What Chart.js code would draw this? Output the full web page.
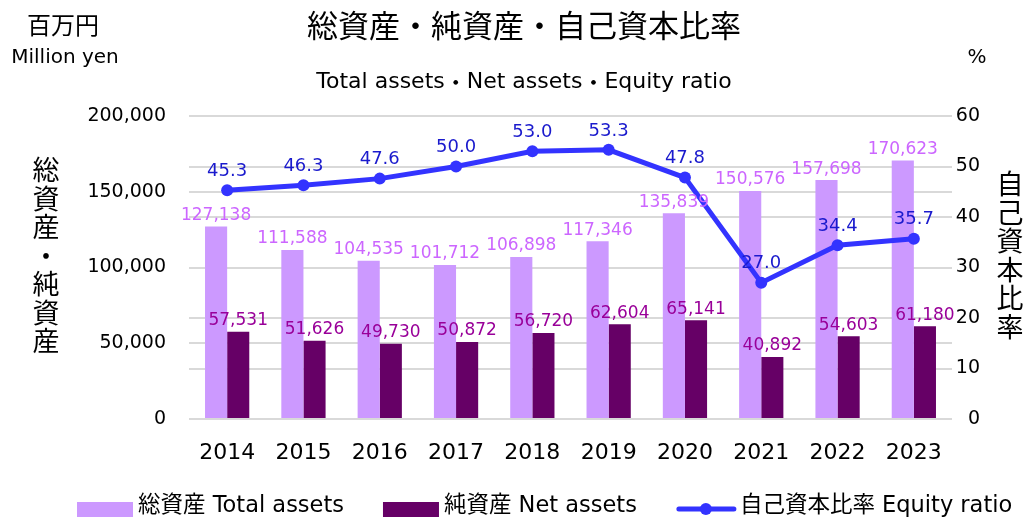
<!DOCTYPE html>
<html lang="ja">
<head>
<meta charset="utf-8">
<title>総資産・純資産・自己資本比率</title>
<script src="https://cdn.jsdelivr.net/npm/chart.js@4.4.1/dist/chart.umd.min.js"></script>
<style>
  html, body { margin: 0; padding: 0; background: #fff; }
  #chart { display: block; }
</style>
</head>
<body>
<canvas id="chart" width="1023" height="517"></canvas>
<script>
// データ
const years = ['2014', '2015', '2016', '2017', '2018', '2019', '2020', '2021', '2022', '2023'];
const totalAssets = [127138, 111588, 104535, 101712, 106898, 117346, 135839, 150576, 157698, 170623];
const netAssets = [57531, 51626, 49730, 50872, 56720, 62604, 65141, 40892, 54603, 61180];
const equityRatio = [45.3, 46.3, 47.6, 50.0, 53.0, 53.3, 47.8, 27.0, 34.4, 35.7];
const leftMax = 200000, leftStep = 50000;
const rightMax = 60, rightStep = 10;

const FONT = '"DejaVu Sans", "Noto Sans CJK JP", sans-serif';
const JP = '"Noto Sans CJK JP", "DejaVu Sans", sans-serif';

// 値ラベル
const valueLabels = {
  id: 'valueLabels',
  afterDatasetsDraw(chart) {
    const ctx = chart.ctx;
    ctx.save();
    ctx.textAlign = 'center';
    ctx.textBaseline = 'middle';
    chart.data.datasets.forEach((ds, i) => {
      const meta = chart.getDatasetMeta(i);
      meta.data.forEach((el, j) => {
        const v = ds.data[j];
        ctx.fillStyle = ds.labelColor;
        if (ds.type === 'line') {
          ctx.font = '18px ' + FONT;
          ctx.fillText(v.toFixed(1), el.x, el.y - 19);
        } else {
          ctx.font = '17px ' + FONT;
          ctx.fillText(v.toLocaleString('en-US'), el.x, el.y - 11);
        }
      });
    });
    ctx.restore();
  }
};

// 「・」だけ全角フォントで描く
function drawMixed(ctx, text, cx, y, size) {
  const parts = text.split('・');
  const latin = size + 'px ' + FONT;
  const dot = size + 'px ' + JP;
  let w = 0;
  parts.forEach((p, i) => {
    ctx.font = latin; w += ctx.measureText(p).width;
    if (i < parts.length - 1) { ctx.font = dot; w += ctx.measureText('・').width; }
  });
  let x = cx - w / 2;
  ctx.textAlign = 'left';
  parts.forEach((p, i) => {
    ctx.font = latin; ctx.fillText(p, x, y); x += ctx.measureText(p).width;
    if (i < parts.length - 1) {
      ctx.font = dot; ctx.fillText('・', x, y); x += ctx.measureText('・').width;
    }
  });
  ctx.textAlign = 'center';
}

// タイトル・軸タイトル・凡例
const decorations = {
  id: 'decorations',
  afterDraw(chart) {
    const ctx = chart.ctx;
    ctx.save();
    ctx.fillStyle = '#000';
    ctx.textBaseline = 'middle';
    ctx.textAlign = 'center';

    ctx.font = '31px ' + JP;
    ctx.fillText('総資産・純資産・自己資本比率', 524, 25);
    drawMixed(ctx, 'Total assets・Net assets・Equity ratio', 524, 82, 22);

    ctx.font = '24px ' + JP;
    ctx.fillText('百万円', 63, 25);
    ctx.font = '20px ' + FONT;
    ctx.fillText('Million yen', 65, 58);
    ctx.fillText('%', 977, 58);

    // 縦書きの軸タイトル
    ctx.font = '27px ' + JP;
    Array.from('総資産・純資産').forEach((c, i) => ctx.fillText(c, 46, 170 + i * 28.5));
    Array.from('自己資本比率').forEach((c, i) => ctx.fillText(c, 1010, 184 + i * 28.5));

    // 凡例
    const ly = 509;
    let x = 77;
    ctx.textAlign = 'left';
    ctx.font = '22.5px ' + FONT;
    chart.data.datasets.forEach(ds => {
      if (ds.type === 'line') {
        ctx.strokeStyle = ds.borderColor;
        ctx.lineWidth = 5;
        ctx.lineCap = 'round';
        ctx.beginPath();
        ctx.moveTo(x + 3, ly);
        ctx.lineTo(x + 58, ly);
        ctx.stroke();
        ctx.fillStyle = ds.borderColor;
        ctx.beginPath();
        ctx.arc(x + 30, ly, 6, 0, Math.PI * 2);
        ctx.fill();
        x += 64;
      } else {
        ctx.fillStyle = ds.backgroundColor;
        ctx.fillRect(x, 502, 56, 16);
        x += 61;
      }
      ctx.fillStyle = '#000';
      ctx.fillText(ds.label, x, ly - 3);
      x += ctx.measureText(ds.label).width + 39;
    });
    ctx.restore();
  }
};

const gridOpts = { color: '#d9d9d9', lineWidth: 2, drawTicks: false };

new Chart(document.getElementById('chart').getContext('2d'), {
  data: {
    labels: years,
    datasets: [
      {
        type: 'bar',
        label: '総資産 Total assets',
        data: totalAssets,
        yAxisID: 'y',
        backgroundColor: '#cc99ff',
        categoryPercentage: 0.58,
        barPercentage: 1,
        order: 1,
        labelColor: '#cc66ff'
      },
      {
        type: 'bar',
        label: '純資産 Net assets',
        data: netAssets,
        yAxisID: 'y',
        backgroundColor: '#660066',
        categoryPercentage: 0.58,
        barPercentage: 1,
        order: 1,
        labelColor: '#990099'
      },
      {
        type: 'line',
        label: '自己資本比率 Equity ratio',
        data: equityRatio,
        yAxisID: 'y1',
        borderColor: '#3333ff',
        backgroundColor: '#3333ff',
        borderWidth: 5,
        pointRadius: 6,
        pointBackgroundColor: '#3333ff',
        pointBorderWidth: 0,
        tension: 0,
        order: 0,
        labelColor: '#1a1acd'
      }
    ]
  },
  options: {
    responsive: false,
    animation: false,
    devicePixelRatio: 1,
    layout: { padding: { top: 116, right: 43, left: 0, bottom: 0 } },
    plugins: {
      legend: { display: false },
      tooltip: { enabled: false }
    },
    scales: {
      x: {
        grid: { display: false },
        border: { display: false },
        ticks: { color: '#000', font: { size: 22, family: FONT }, padding: 13 },
        afterFit: s => { s.height = 98; }
      },
      y: {
        position: 'left',
        min: 0,
        max: leftMax,
        grid: gridOpts,
        border: { display: false },
        ticks: {
          stepSize: leftStep,
          color: '#000',
          font: { size: 19, family: FONT },
          padding: 23,
          callback: v => v.toLocaleString('en-US')
        },
        afterFit: s => { s.width = 189; }
      },
      y1: {
        position: 'right',
        min: 0,
        max: rightMax,
        grid: gridOpts,
        border: { display: false },
        ticks: {
          stepSize: rightStep,
          color: '#000',
          font: { size: 19, family: FONT },
          crossAlign: 'far',
          padding: -7
        },
        afterFit: s => { s.width = 28; }
      }
    }
  },
  plugins: [valueLabels, decorations]
});
</script>
</body>
</html>
